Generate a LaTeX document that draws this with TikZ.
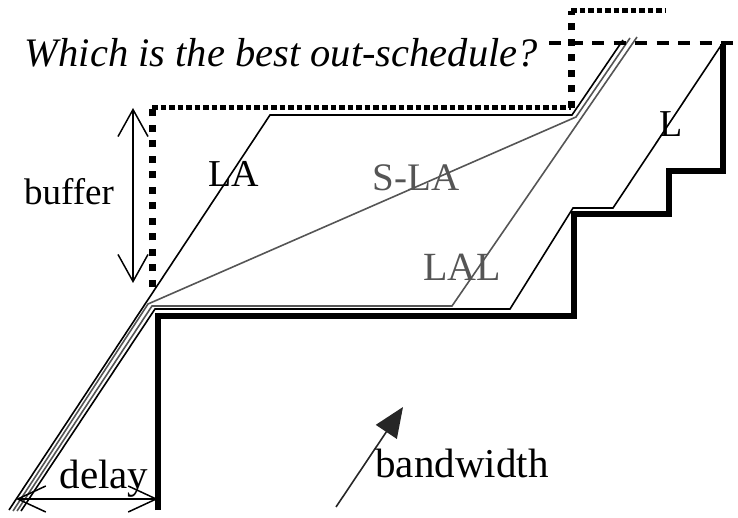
\documentclass[tikz,border=0pt]{standalone}
\usepackage{fontspec}
\setmainfont{Liberation Serif}
\usetikzlibrary{arrows.meta}
\definecolor{lgray}{HTML}{555555}
\begin{document}
\begin{tikzpicture}[x=1pt,y=-1pt,
  lbl/.style={inner sep=0pt,anchor=base,font=\fontsize{38}{40}\selectfont},
  thinblack/.style={line width=1.6pt,black,line join=miter},
  thingray/.style={line width=1.6pt,lgray,line join=miter},
  thickstep/.style={line width=6pt,black,line join=miter},
  dotv/.style={line width=7pt,dash pattern=on 7pt off 8.5pt},
  doth/.style={line width=5pt,dash pattern=on 5.5pt off 3pt},
  dashl/.style={line width=4pt,dash pattern=on 12pt off 9.5pt},
  dimarrow/.style={line width=1.5pt,{Straight Barb[length=27pt,width=30pt,line width=1.5pt]}-{Straight Barb[length=27pt,width=30pt,line width=1.5pt]}}
]
\useasboundingbox (0,0) rectangle (738,518);

% thick step (in-schedule)
\coordinate (s0) at (158,510);
\coordinate (s1) at (158,316);
\coordinate (s2) at (574,316);
\coordinate (s3) at (574,214);
\coordinate (s4) at (669,214);
\coordinate (s5) at (669,171);
\coordinate (s6) at (723,171);
\coordinate (s7) at (723,44);
\draw[thickstep] (s0) -- (s1) -- (s2) -- (s3) -- (s4) -- (s5) -- (s6) -- (s7);

% L schedule
\coordinate (l0) at (21,511);
\coordinate (l1) at (155,309);
\coordinate (l2) at (510,309);
\coordinate (l3) at (573,208);
\coordinate (l4) at (613,208);
\coordinate (l5) at (722,44);
\draw[thinblack] (l0) -- (l1) -- (l2) -- (l3) -- (l4) -- (l5);

% LAL schedule
\coordinate (lal0) at (17,511);
\coordinate (lal1) at (152,306);
\coordinate (lal2) at (452,306);
\coordinate (lal3) at (637,37);
\draw[thingray] (lal0) -- (lal1) -- (lal2) -- (lal3);

% S-LA schedule
\coordinate (sla0) at (13,511);
\coordinate (sla1) at (148,304);
\coordinate (sla2) at (576,117);
\coordinate (sla3) at (630,38);
\draw[thingray] (sla0) -- (sla1) -- (sla2) -- (sla3);

% LA schedule
\coordinate (la0) at (9,510);
\coordinate (la1) at (270,115);
\coordinate (la2) at (572,115);
\coordinate (la3) at (623,40);
\draw[thinblack] (la0) -- (la1) -- (la2) -- (la3);

% dotted buffer outline
\coordinate (d0) at (152,287);
\coordinate (d1) at (152,108);
\coordinate (d2) at (571,108);
\coordinate (d3) at (571,11);
\coordinate (d4) at (665,11);
\draw[dotv] (d0) -- (d1);
\draw[doth] (d1) -- (d2);
\draw[dotv] (d2) -- (d3);
\draw[doth] (d3) -- (d4);

% dashed line
\coordinate (h0) at (549,43);
\coordinate (h1) at (738,43);
\draw[dashl] (h0) -- (h1);

% dimension arrows
\coordinate (b0) at (133,108);
\coordinate (b1) at (133,283);
\draw[dimarrow] (b0) -- (b1);
\coordinate (e0) at (16,499);
\coordinate (e1) at (158,499);
\draw[line width=1.5pt,{Straight Barb[length=28pt,width=26pt,line width=1.5pt]}-{Straight Barb[length=28pt,width=26pt,line width=1.5pt]}] (e0) -- (e1);

% bandwidth arrow
\coordinate (w0) at (336,507);
\coordinate (w1) at (403,407);
\draw[line width=1.6pt,black!85,-{Triangle[length=30pt,width=25pt]}] (w0) -- (w1);

% labels
\node[lbl,anchor=base east,font=\fontsize{40.5}{42}\selectfont\itshape] (title) at (538,67) {Which is the best out-schedule?};
\node[lbl,font=\fontsize{37}{40}\selectfont] (tbuffer) at (69,205) {buffer};
\node[lbl] (tla) at (234,187) {LA};
\node[lbl,text=lgray,font=\fontsize{39}{40}\selectfont] (tsla) at (416,191) {S-LA};
\node[lbl,text=lgray,font=\fontsize{40}{40}\selectfont] (tlal) at (462,280) {LAL};
\node[lbl] (tl) at (671,137) {L};
\node[lbl,font=\fontsize{41}{42}\selectfont] (tdelay) at (104,488) {delay};
\node[lbl,font=\fontsize{41}{42}\selectfont] (tbw) at (462,477) {bandwidth};
\end{tikzpicture}
\end{document}
